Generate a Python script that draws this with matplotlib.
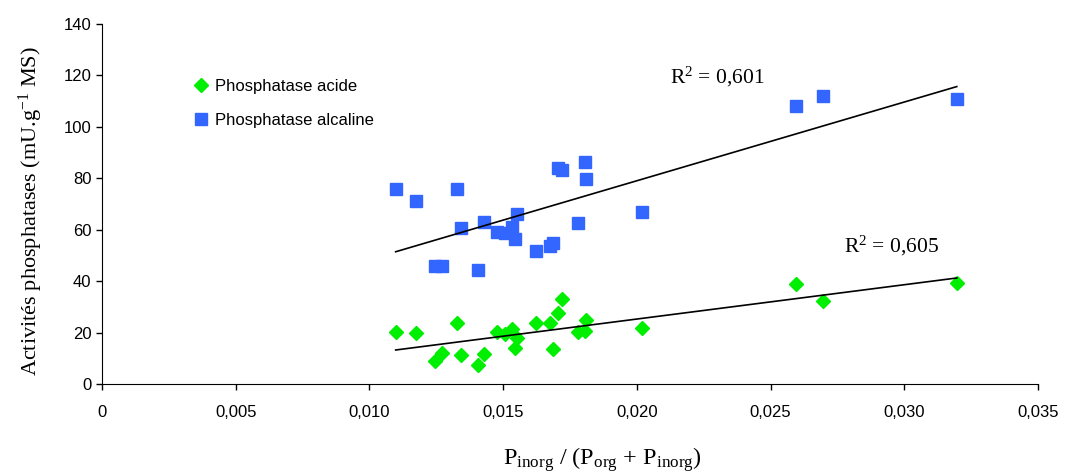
import numpy as np
import matplotlib
matplotlib.use("Agg")
import matplotlib.pyplot as plt
from matplotlib.ticker import FuncFormatter

# P inorg / (P org + P inorg) for each sample
ratio = [0.01098, 0.01173, 0.01245, 0.01272, 0.01326, 0.01341, 0.01404, 0.01428,
         0.01478, 0.01507, 0.01532, 0.01545, 0.01551, 0.01622, 0.01675, 0.01685,
         0.01706, 0.01719, 0.01781, 0.01806, 0.01809, 0.02020, 0.02594, 0.02694,
         0.03196]
acide = [20.2, 19.7, 9.1, 11.9, 23.6, 11.3, 7.4, 11.7,
         20.3, 19.3, 21.3, 13.9, 17.8, 23.6, 23.6, 13.6,
         27.7, 32.9, 20.3, 20.7, 24.9, 21.9, 38.9, 32.4,
         39.4]
alcaline = [75.7, 71.3, 45.9, 45.9, 75.7, 60.8, 44.2, 63.0,
            59.0, 58.6, 61.1, 56.4, 66.1, 51.8, 53.7, 54.8,
            83.9, 83.2, 62.5, 86.2, 79.6, 66.9, 107.9, 112.1,
            110.9]
r2_labels = ["R$^2$ = 0,605", "R$^2$ = 0,601"]

xticks = [0, 0.005, 0.010, 0.015, 0.020, 0.025, 0.030, 0.035]
yticks = [0, 20, 40, 60, 80, 100, 120, 140]

plt.rcParams['font.family'] = 'Liberation Sans'
plt.rcParams['mathtext.fontset'] = 'custom'
plt.rcParams['mathtext.rm'] = 'Liberation Serif'
plt.rcParams['mathtext.it'] = 'Liberation Serif:italic'

fig = plt.figure(figsize=(10.66, 4.75), dpi=100)
ax = fig.add_axes([0.0957, 0.1916, 0.8781, 0.758])

x = np.array(ratio)
ax.plot(x, acide, linestyle='none', marker='D', ms=7.5, color='#00ee00',
        label='Phosphatase acide')
ax.plot(x, alcaline, linestyle='none', marker='s', ms=8, color='#3366ff',
        label='Phosphatase alcaline')

# linear trend lines
xs = np.linspace(x.min(), x.max(), 50)
for ys in (acide, alcaline):
    p = np.polyfit(x, ys, 1)
    ax.plot(xs, np.polyval(p, xs), color='black', lw=1.2)

ax.text(0.0295, 53.5, r2_labels[0], family='Liberation Serif', fontsize=15.5,
        ha='center', va='center')
ax.text(0.0230, 119.5, r2_labels[1], family='Liberation Serif', fontsize=15.5,
        ha='center', va='center')

ax.set_xlim(0, 0.035)
ax.set_ylim(0, 140)
ax.set_xticks(xticks)
ax.set_yticks(yticks)
ax.xaxis.set_major_formatter(FuncFormatter(lambda v, pos: '0' if v == 0 else ('%.3f' % v).replace('.', ',')))
ax.tick_params(direction='out', length=4, width=1, labelsize=12, color='black')
ax.tick_params(axis='x', pad=11)
for s in ['top', 'right']:
    ax.spines[s].set_visible(False)

ax.set_ylabel('Activités phosphatases (mU.g$^{-1}$ MS)', family='Liberation Serif', fontsize=16)
ax.yaxis.set_label_coords(-0.061, 0.48)
ax.set_xlabel(r'$\mathrm{P_{inorg}}$ / ($\mathrm{P_{org}}$ + $\mathrm{P_{inorg}}$)',
              family='Liberation Serif', fontsize=17.5)
ax.xaxis.set_label_coords(0.535, -0.17)
ax.xaxis.label.set_va('top')

leg = ax.legend(loc='upper left', bbox_to_anchor=(0.097, 0.848), frameon=False,
                fontsize=12, handletextpad=0.35, labelspacing=1.15, handlelength=1,
                borderpad=0, borderaxespad=0)

fig.savefig('out.png', dpi=100)
